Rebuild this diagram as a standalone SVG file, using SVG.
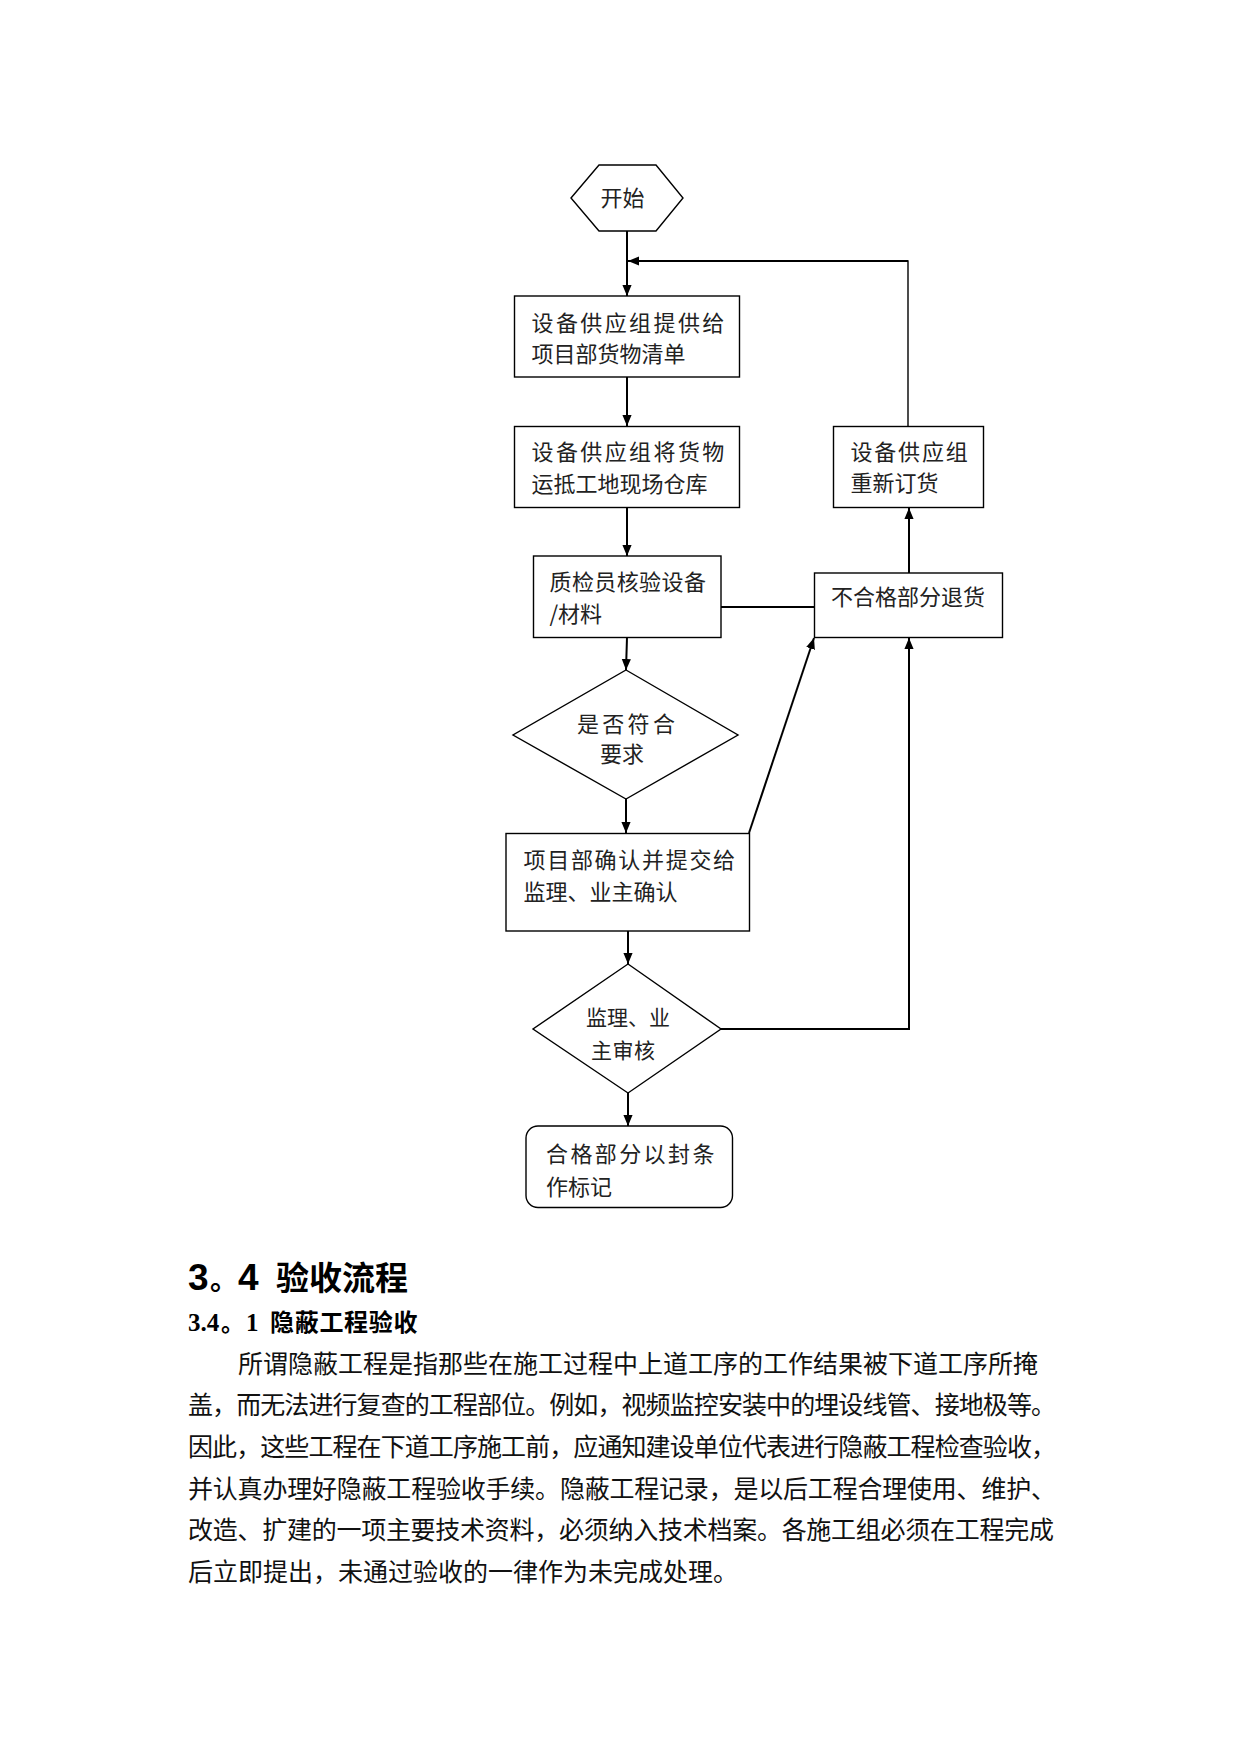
<svg xmlns="http://www.w3.org/2000/svg" width="1241" height="1754" viewBox="0 0 1241 1754">
<style>
  .shape { fill: #ffffff; stroke: #000000; stroke-width: 1.4; }
  .lbl { font-family: "Noto Sans CJK SC", "Liberation Sans", sans-serif; font-size: 22px; fill: #222222; }
  .sm { font-size: 21px; }
  .conn { fill: none; stroke: #000000; stroke-width: 2; }
  .thin { fill: none; stroke: #000000; stroke-width: 1.4; }
  .body { font-family: "Noto Sans CJK SC", sans-serif; font-size: 25px; fill: #111111; }
</style>
<defs>
  <marker id="arr" viewBox="0 0 12 10" refX="12" refY="5" markerUnits="userSpaceOnUse" markerWidth="11" markerHeight="10" orient="auto">
    <path d="M0,0 L12,5 L0,10 z" fill="#000000"/>
  </marker>
</defs>
<rect x="0" y="0" width="1241" height="1754" fill="#ffffff"/>

<g id="connectors">
  <line class="conn" x1="627" y1="231" x2="627" y2="296" marker-end="url(#arr)"/>
  <line class="conn" x1="627" y1="377" x2="627" y2="426" marker-end="url(#arr)"/>
  <line class="conn" x1="627" y1="507" x2="627" y2="556" marker-end="url(#arr)"/>
  <line class="conn" x1="627" y1="637" x2="626" y2="670" marker-end="url(#arr)"/>
  <line class="conn" x1="626" y1="799" x2="626" y2="833" marker-end="url(#arr)"/>
  <line class="conn" x1="628" y1="931" x2="628" y2="964" marker-end="url(#arr)"/>
  <line class="conn" x1="628" y1="1093" x2="628" y2="1126" marker-end="url(#arr)"/>
  <line class="conn" x1="721" y1="607" x2="814" y2="607"/>
  <line class="conn" x1="749" y1="833" x2="814" y2="638" marker-end="url(#arr)"/>
  <polyline class="conn" points="721,1029 909,1029 909,638" marker-end="url(#arr)"/>
  <line class="conn" x1="909" y1="573" x2="909" y2="508" marker-end="url(#arr)"/>
  <polyline class="thin" points="908,426 908,261 740,261"/>
  <line class="conn" x1="908" y1="261" x2="628" y2="261" marker-end="url(#arr)"/>
</g>

<g id="start">
  <polygon class="shape" points="571,198 599,165 656,165 683,198 656,231 599,231"/>
  <text class="lbl" x="600.5" y="206">开始</text>
</g>

<g id="box1">
  <rect class="shape" x="514.5" y="296" width="225" height="81"/>
  <text class="lbl" x="531.5" y="331" letter-spacing="2.4">设备供应组提供给</text>
  <text class="lbl" x="531.5" y="361.5">项目部货物清单</text>
</g>

<g id="box2">
  <rect class="shape" x="514.5" y="426.5" width="225" height="81"/>
  <text class="lbl" x="531.5" y="460" letter-spacing="2.4">设备供应组将货物</text>
  <text class="lbl" x="531.5" y="491.5">运抵工地现场仓库</text>
</g>

<g id="reorder">
  <rect class="shape" x="833.5" y="426.5" width="150" height="81"/>
  <text class="lbl" x="850.5" y="460" letter-spacing="1.8">设备供应组</text>
  <text class="lbl" x="850.5" y="491">重新订货</text>
</g>

<g id="box3">
  <rect class="shape" x="533.5" y="556" width="187.5" height="81.5"/>
  <text class="lbl" x="549.5" y="590" letter-spacing="0.4">质检员核验设备</text>
  <text class="lbl" x="549.5" y="621.5">/材料</text>
</g>

<g id="reject">
  <rect class="shape" x="814.5" y="573" width="188" height="64.5"/>
  <text class="lbl" x="831" y="605">不合格部分退货</text>
</g>

<g id="decision1">
  <polygon class="shape" points="626,670 738,735 626,799 513,735"/>
  <text class="lbl" x="577" y="732" letter-spacing="3.3">是否符合</text>
  <text class="lbl" x="600" y="762">要求</text>
</g>

<g id="box4">
  <rect class="shape" x="506" y="833.5" width="243.5" height="97.5"/>
  <text class="lbl" x="523.5" y="868" letter-spacing="1.7">项目部确认并提交给</text>
  <text class="lbl" x="523.5" y="900">监理、业主确认</text>
</g>

<g id="decision2">
  <polygon class="shape" points="628,964 721,1029 628,1093 533,1029"/>
  <text class="lbl sm" x="586" y="1025">监理、业</text>
  <text class="lbl sm" x="591" y="1057.5" letter-spacing="0.5">主审核</text>
</g>

<g id="end">
  <rect class="shape" x="526" y="1126" width="206.5" height="81.5" rx="12" ry="12"/>
  <text class="lbl" x="546" y="1162" letter-spacing="2.4">合格部分以封条</text>
  <text class="lbl" x="546" y="1195">作标记</text>
</g>

<g id="headings">
  <text y="1290" font-weight="bold" fill="#000000">
    <tspan x="188" font-family="Liberation Sans, sans-serif" font-size="37">3</tspan><tspan x="210" font-family="Noto Sans CJK SC, sans-serif" font-size="28">。</tspan><tspan x="238" font-family="Liberation Sans, sans-serif" font-size="37">4</tspan><tspan x="276" font-family="Noto Sans CJK SC, sans-serif" font-size="33">验收流程</tspan>
  </text>
  <text y="1331" font-weight="bold" fill="#000000">
    <tspan x="188" font-family="Liberation Serif, serif" font-size="25">3.4</tspan><tspan x="221" font-family="Noto Sans CJK SC, sans-serif" font-size="23">。</tspan><tspan x="246" font-family="Liberation Serif, serif" font-size="25">1</tspan><tspan x="270" font-family="Noto Sans CJK SC, sans-serif" font-size="24" letter-spacing="0.7">隐蔽工程验收</tspan>
  </text>
</g>

<g id="paragraph">
  <text class="body" x="238" y="1372.5">所谓隐蔽工程是指那些在施工过程中上道工序的工作结果被下道工序所掩</text>
  <text class="body" x="188" y="1414.2" textLength="868" lengthAdjust="spacing">盖，而无法进行复查的工程部位。例如，视频监控安装中的埋设线管、接地极等。</text>
  <text class="body" x="188" y="1455.9" textLength="868" lengthAdjust="spacing">因此，这些工程在下道工序施工前，应通知建设单位代表进行隐蔽工程检查验收，</text>
  <text class="body" x="188" y="1497.6" textLength="868" lengthAdjust="spacing">并认真办理好隐蔽工程验收手续。隐蔽工程记录，是以后工程合理使用、维护、</text>
  <text class="body" x="188" y="1539.3" textLength="866" lengthAdjust="spacing">改造、扩建的一项主要技术资料，必须纳入技术档案。各施工组必须在工程完成</text>
  <text class="body" x="188" y="1581">后立即提出，未通过验收的一律作为未完成处理。</text>
</g>
</svg>
